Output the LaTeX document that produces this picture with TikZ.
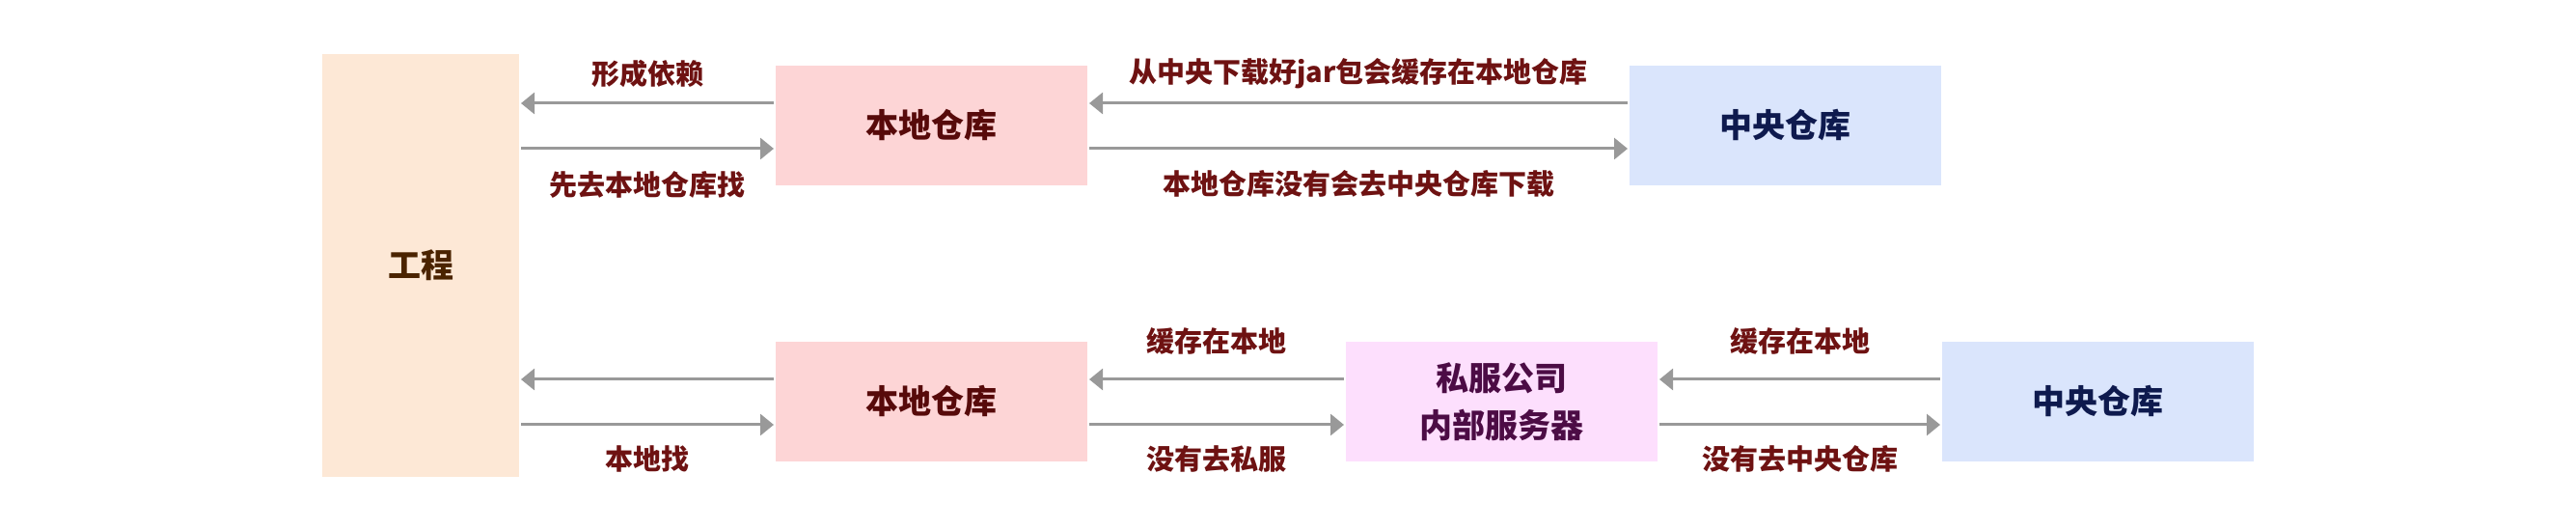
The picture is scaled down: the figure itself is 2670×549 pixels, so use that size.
\documentclass[tikz,border=0pt]{standalone}
\usepackage{fontspec}
\setmainfont{Noto Sans CJK SC}
\usepackage{tikz}
\usetikzlibrary{arrows.meta,positioning}
\definecolor{projFill}{HTML}{FDE8D6}
\definecolor{projText}{HTML}{4A2300}
\definecolor{localFill}{HTML}{FDD5D6}
\definecolor{localText}{HTML}{570A0A}
\definecolor{centralFill}{HTML}{DAE5FC}
\definecolor{centralText}{HTML}{0E1A4E}
\definecolor{privFill}{HTML}{FDDFFD}
\definecolor{privText}{HTML}{4C0C45}
\definecolor{lblText}{HTML}{6E1212}
\definecolor{arrowGray}{HTML}{999999}

\begin{document}
\begin{tikzpicture}[
    x=0.5pt, y=-0.5pt,
    node distance=81pt,
    box/.style={inner sep=0pt, outer sep=0pt, align=center, font=\bfseries\fontsize{17pt}{24.5pt}\selectfont, minimum width=161.5pt, minimum height=62pt},
    arrow/.style={-{Triangle[length=7pt,width=11pt]}, line width=1.5pt, draw=arrowGray, shorten >=1pt, shorten <=1pt},
    lbl/.style={font=\bfseries\fontsize{14.5pt}{17pt}\selectfont, text=lblText, inner sep=0pt}
  ]
    \useasboundingbox (0,0) rectangle (2670,549);
    \node[box, fill=projFill, text=projText, minimum width=102pt, minimum height=219pt] (proj) at (436,275) {工程};
    \node[box, fill=localFill, text=localText] (localA) at (965.5,130) {本地仓库};
    \node[box, fill=centralFill, text=centralText, right=281pt of localA] (centralA) {中央仓库};
    \node[box, fill=localFill, text=localText, below=of localA] (localB) {本地仓库};
    \node[box, fill=privFill, text=privText, right=134pt of localB] (priv) {私服公司\\内部服务器};
    \node[box, fill=centralFill, text=centralText, right=147.5pt of priv] (centralB) {中央仓库};
    % top row
    \draw[arrow] ([yshift=11.5pt]localA.west) -- ([yshift=11.5pt]localA.west -| proj.east) node[lbl, midway, yshift=15.5pt] (tDep) {形成依赖};
    \draw[arrow] ([yshift=-12pt]localA.west -| proj.east) -- ([yshift=-12pt]localA.west) node[lbl, midway, yshift=-18.5pt] (tFind) {先去本地仓库找};
    \draw[arrow] ([yshift=11.5pt]centralA.west) -- ([yshift=11.5pt]localA.east) node[lbl, midway, yshift=15.5pt] (tCache) {从中央下载好jar包会缓存在本地仓库};
    \draw[arrow] ([yshift=-12pt]localA.east) -- ([yshift=-12pt]centralA.west) node[lbl, midway, yshift=-18.5pt] (tDown) {本地仓库没有会去中央仓库下载};
    % bottom row
    \draw[arrow] ([yshift=11.5pt]localB.west) -- ([yshift=11.5pt]localB.west -| proj.east);
    \draw[arrow] ([yshift=-12pt]localB.west -| proj.east) -- ([yshift=-12pt]localB.west) node[lbl, midway, yshift=-17.5pt] (bFind) {本地找};
    \draw[arrow] ([yshift=11.5pt]priv.west) -- ([yshift=11.5pt]localB.east) node[lbl, midway, yshift=20pt] (bCacheA) {缓存在本地};
    \draw[arrow] ([yshift=-12pt]localB.east) -- ([yshift=-12pt]priv.west) node[lbl, midway, yshift=-17.5pt] (bPriv) {没有去私服};
    \draw[arrow] ([yshift=11.5pt]centralB.west) -- ([yshift=11.5pt]priv.east) node[lbl, midway, yshift=20pt] (bCacheB) {缓存在本地};
    \draw[arrow] ([yshift=-12pt]priv.east) -- ([yshift=-12pt]centralB.west) node[lbl, midway, yshift=-17.5pt] (bCentral) {没有去中央仓库};
  \end{tikzpicture}
\end{document}
